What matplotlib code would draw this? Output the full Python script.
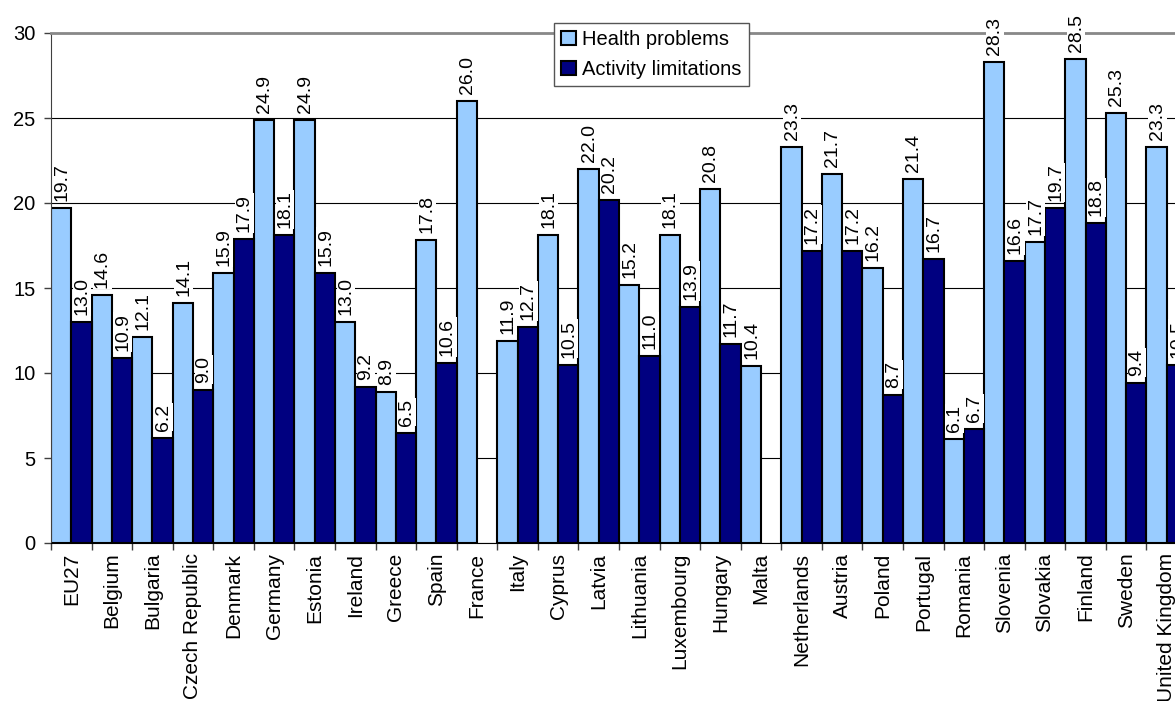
import numpy as np
import matplotlib
matplotlib.use('Agg')
import matplotlib.pyplot as plt

plt.rcParams['font.family'] = ['Liberation Sans', 'DejaVu Sans']

# Data
countries = ['EU27', 'Belgium', 'Bulgaria', 'Czech Republic', 'Denmark', 'Germany',
             'Estonia', 'Ireland', 'Greece', 'Spain', 'France', 'Italy', 'Cyprus',
             'Latvia', 'Lithuania', 'Luxembourg', 'Hungary', 'Malta', 'Netherlands',
             'Austria', 'Poland', 'Portugal', 'Romania', 'Slovenia', 'Slovakia',
             'Finland', 'Sweden', 'United Kingdom']
health = [19.7, 14.6, 12.1, 14.1, 15.9, 24.9, 24.9, 13.0, 8.9, 17.8, 26.0, 11.9, 18.1,
          22.0, 15.2, 18.1, 20.8, 10.4, 23.3, 21.7, 16.2, 21.4, 6.1, 28.3, 17.7,
          28.5, 25.3, 23.3]
activity = [13.0, 10.9, 6.2, 9.0, 17.9, 18.1, 15.9, 9.2, 6.5, 10.6, np.nan, 12.7, 10.5,
            20.2, 11.0, 13.9, 11.7, np.nan, 17.2, 17.2, 8.7, 16.7, 6.7, 16.6, 19.7,
            18.8, 9.4, 10.5]

light = '#99CCFF'
dark = '#000080'

fig = plt.figure(figsize=(11.75, 7.01), dpi=100)
# axes runs past the right edge on purpose (the reference is cropped)
ax = fig.add_axes([51 / 1175, 158 / 701, 1136 / 1175, 510 / 701])

x = np.arange(len(countries))
w = 0.5
ax.bar(x - w / 2, health, w, color=light, edgecolor='black', linewidth=1.5,
       label='Health problems', zorder=2)
ax.bar(x + w / 2, activity, w, color=dark, edgecolor='black', linewidth=1.5,
       label='Activity limitations', zorder=2)

# value labels
for xs, vals in [(x - w / 2, health), (x + w / 2, activity)]:
    for xi, v in zip(xs, vals):
        if np.isnan(v):
            continue
        ax.annotate(f'{v:.1f}', (xi, v), xytext=(0.5, 5), textcoords='offset points',
                    rotation=90, ha='center', va='bottom', fontsize=14, zorder=3,
                    bbox=dict(facecolor='white', edgecolor='none', pad=0.5))

ax.set_xlim(-0.5, len(countries) - 0.5)
ax.set_ylim(0, 30)
ax.set_yticks([0, 5, 10, 15, 20, 25, 30])
ax.tick_params(axis='y', labelsize=14.5, length=5, width=1, color='#404040', pad=6)

# ticks between categories, labels at centres
ax.set_xticks(np.arange(len(countries) + 1) - 0.5)
ax.set_xticklabels([])
ax.set_xticks(x, minor=True)
ax.set_xticklabels(countries, minor=True, rotation=90, fontsize=15, va='top')
ax.tick_params(axis='x', which='major', length=5, width=1, color='#404040')
ax.tick_params(axis='x', which='minor', length=0, pad=7)

ax.yaxis.grid(True, color='black', linewidth=0.8)
ax.set_axisbelow(True)

ax.spines['right'].set_visible(False)
ax.spines['top'].set_color('#888888')
ax.spines['top'].set_linewidth(2)
ax.spines['left'].set_color('#404040')
ax.spines['bottom'].set_color('black')

leg = ax.legend(loc='upper left', bbox_to_anchor=(554 / 1175, 1 - 23 / 701),
                bbox_transform=fig.transFigure, fontsize=14.5, frameon=True,
                fancybox=False, edgecolor='#555555', framealpha=1,
                handlelength=0.75, handleheight=0.75, handletextpad=0.3,
                borderpad=0.35, labelspacing=0.55, borderaxespad=0)
leg.get_frame().set_linewidth(1)
leg.set_zorder(5)

plt.savefig('out.png', dpi=100)
